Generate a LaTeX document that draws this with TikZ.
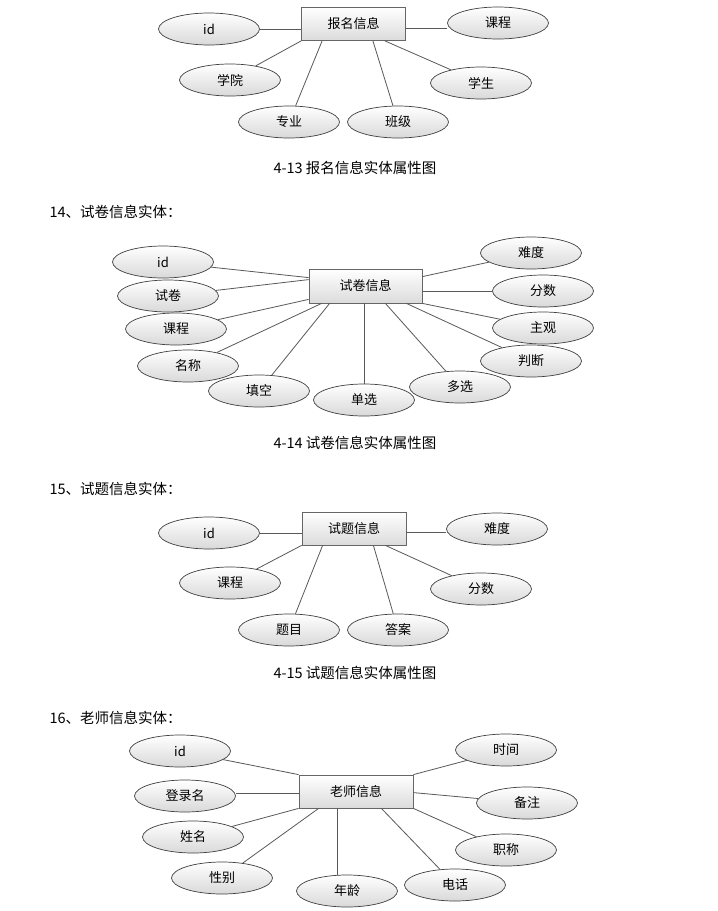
\documentclass[tikz,border=0pt]{standalone}
\usepackage{fontspec}
\setmainfont{Noto Sans CJK SC}
\usetikzlibrary{shapes.geometric}

\begin{document}
\begin{tikzpicture}[x=1pt, y=-1pt,
    attr/.style={ellipse, draw=black!75, line width=0.7pt, top color=white, bottom color=black!15,
        minimum width=101pt, minimum height=32pt, inner sep=0pt, font=\fontsize{13}{15}\selectfont},
    entity/.style={rectangle, draw=black!60, line width=0.8pt, top color=white, bottom color=black!14,
        minimum width=104pt, minimum height=33pt, inner sep=0pt, font=\fontsize{13}{15}\selectfont},
    link/.style={draw=black!65, line width=0.8pt},
    caption/.style={font=\fontsize{14.5}{16}\selectfont},
    heading/.style={anchor=west, font=\fontsize{14.5}{16}\selectfont}]
    \useasboundingbox[fill=white] (0,0) rectangle (718,911);

    % 4-13
    \node[entity] (bm) at (353.5,24) {报名信息};
    \foreach \nm/\x/\y/\txt in {bmId/209/29/id, bmKc/498/23/课程, bmXy/230/80/学院, bmXs/481/83/学生, bmZy/289/122/专业, bmBj/398/122/班级}
        \node[attr] (\nm) at (\x,\y) {\txt};

    % Draw
    \draw[link] (bmId) -- (bmId -| bm.west);
    \draw[link] ([yshift=-5pt]bmKc.west) -- ([yshift=-5pt]bmKc.west -| bm.east);
    \draw[link] (bm.south west) -- (bmXy);
    \draw[link] ([xshift=21pt]bm.south west) -- (bmZy);
    \draw[link] ([xshift=-33pt]bm.south east) -- (bmBj);
    \draw[link] ([xshift=-21pt]bm.south east) -- (bmXs);

    \node[caption] (capA) at (355,168) {4-13 报名信息实体属性图};
    \node[heading] (headB) at (46,212) {14、试卷信息实体：};

    % 4-14
    \node[entity, minimum width=113pt, minimum height=34pt] (sj) at (365.5,286) {试卷信息};
    \foreach \nm/\x/\y/\txt in {sjId/163/262/id, sjSj/168/296/试卷, sjKc/176/329/课程, sjMc/188/366/名称, sjTk/259/391/填空, sjDx/364/400/单选, sjDu/460/387/多选, sjPd/531/361/判断, sjZg/543/328/主观, sjFs/543/291/分数, sjNd/531/253/难度}
        \node[attr] (\nm) at (\x,\y) {\txt};

    % Draw
    \draw[link] ([yshift=-9pt]sj.north west) -- (sjId);
    \draw[link] ([yshift=-11pt]sj.north west) -- (sjSj);
    \draw[link] ([yshift=4pt]sj.south west) -- (sjKc);
    \draw[link] ([xshift=13pt]sj.south west) -- (sjMc);
    \draw[link] ([xshift=21pt]sj.south west) -- (sjTk);
    \draw[link] (sjDx) -- (sjDx |- sj.south);
    \draw[link] ([xshift=-37pt]sj.south east) -- (sjDu);
    \draw[link] ([xshift=-16pt]sj.south east) -- (sjPd);
    \draw[link] (sj.south east) -- (sjZg);
    \draw[link] (sjFs) -- (sjFs -| sj.east);
    \draw[link] ([yshift=-8pt]sj.north east) -- (sjNd);

    \node[caption] (capB) at (355,443) {4-14 试卷信息实体属性图};
    \node[heading] (headC) at (46,489) {15、试题信息实体：};

    % 4-15
    \node[entity] (st) at (354,528.5) {试题信息};
    \foreach \nm/\x/\y/\txt in {stId/209/533/id, stNd/497/529/难度, stKc/230/583/课程, stFs/481/589/分数, stTm/289/630/题目, stDa/398/630/答案}
        \node[attr] (\nm) at (\x,\y) {\txt};

    % Draw
    \draw[link] (stId) -- (stId -| st.west);
    \draw[link] ([yshift=-3pt]stNd.west) -- ([yshift=-3pt]stNd.west -| st.east);
    \draw[link] (st.south west) -- (stKc);
    \draw[link] ([xshift=21pt]st.south west) -- (stTm);
    \draw[link] ([xshift=-33pt]st.south east) -- (stDa);
    \draw[link] ([xshift=-21pt]st.south east) -- (stFs);

    \node[caption] (capC) at (355,673) {4-15 试题信息实体属性图};
    \node[heading] (headD) at (46,718) {16、老师信息实体：};

    % 4-16
    \node[entity, minimum width=114pt] (ls) at (356,791.5) {老师信息};
    \foreach \nm/\x/\y/\txt in {lsId/180/751/id, lsDl/185/796/登录名, lsXm/193/837/姓名, lsXb/222/878/性别, lsNl/347/891/年龄, lsDh/455/885/电话, lsZc/506/850/职称, lsBz/527/803/备注, lsSj/506/750/时间}
        \node[attr] (\nm) at (\x,\y) {\txt};

    % Draw
    \draw[link] (ls.north west) -- (lsId);
    \draw[link] ([yshift=3pt]lsDl.east) -- ([yshift=3pt]lsDl.east -| ls.west);
    \draw[link] (ls.south west) -- (lsXm);
    \draw[link] ([xshift=20pt]ls.south west) -- (lsXb);
    \draw[link] ([xshift=39pt]ls.south west) -- ([xshift=39pt]ls.south west |- lsNl.north);
    \draw[link] ([xshift=-32pt]ls.south east) -- (lsDh);
    \draw[link] (ls.south east) -- (lsZc);
    \draw[link] ([yshift=-18pt]ls.north east) -- (lsBz);
    \draw[link] (ls.north east) -- (lsSj);
\end{tikzpicture}
\end{document}
